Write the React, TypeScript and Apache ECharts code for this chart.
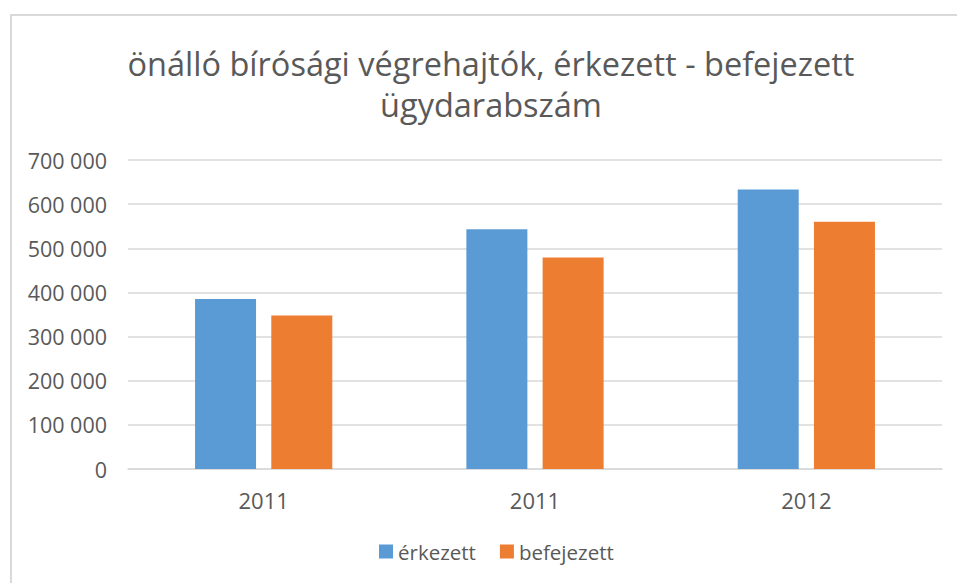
import React, { useEffect, useRef } from "react";
import * as echarts from "echarts";

const categories = ["2011", "2011", "2012"];
const erkezett = [385000, 543000, 633000];
const befejezett = [348000, 479000, 560000];
const seriesNames = ["érkezett", "befejezett"];
const titleLines = ["önálló bírósági végrehajtók, érkezett - befejezett", "ügydarabszám"];

const fmt = (v: number) => {
  if (v === 0) return "0";
  const s = String(v);
  return s.replace(/\B(?=(\d{3})+(?!\d))/g, " ");
};

export default function App() {
  const ref = useRef<HTMLDivElement>(null);
  useEffect(() => {
    if (!ref.current) return;
    const chart = echarts.init(ref.current, null, { renderer: "svg" });
    const font = "'Open Sans', 'Noto Sans', sans-serif";
    chart.setOption({
      animation: false,
      backgroundColor: "#ffffff",
      textStyle: { fontFamily: font },
      title: {
        text: titleLines.join("\n"),
        left: 486,
        textAlign: "center",
        top: 38,
        textStyle: {
          fontFamily: font,
          fontSize: 32.5,
          fontWeight: "normal",
          color: "#595959",
          lineHeight: 41,
        },
      },
      graphic: [
        { type: "line", shape: { x1: 11, y1: 15, x2: 11, y2: 583 }, style: { stroke: "#d9d9d9", lineWidth: 2 } },
        { type: "line", shape: { x1: 10, y1: 15, x2: 957, y2: 15 }, style: { stroke: "#d9d9d9", lineWidth: 2 } },
      ],
      legend: {
        data: seriesNames,
        bottom: 16,
        left: 374,
        icon: "rect",
        itemWidth: 14,
        itemHeight: 14,
        itemGap: 24,
        itemTextGap: 5,
        textStyle: { fontFamily: font, fontSize: 20.5, color: "#595959" },
      },
      grid: { left: 128, right: 15, top: 160, bottom: 114, containLabel: false },
      xAxis: {
        type: "category",
        data: categories,
        axisLine: { lineStyle: { color: "#d9d9d9", width: 1.5 } },
        axisTick: { show: false },
        axisLabel: { color: "#595959", fontSize: 22, margin: 20, fontFamily: font },
      },
      yAxis: {
        type: "value",
        min: 0,
        max: 700000,
        interval: 100000,
        axisLine: { show: false },
        axisTick: { show: false },
        splitLine: { lineStyle: { color: "#d9d9d9", width: 1.5 } },
        axisLabel: { color: "#595959", fontSize: 21.5, margin: 21, fontFamily: font, formatter: fmt },
      },
      series: [
        {
          name: seriesNames[0],
          type: "bar",
          data: erkezett,
          barWidth: 61,
          barGap: "25%",
          itemStyle: { color: "#5b9bd5" },
        },
        {
          name: seriesNames[1],
          type: "bar",
          data: befejezett,
          barWidth: 61,
          barGap: "25%",
          itemStyle: { color: "#ed7d31" },
        },
      ],
    });
    return () => chart.dispose();
  }, []);
  return (
    <div
      ref={ref}
      style={{ position: "fixed", left: 0, top: 0, width: 957, height: 583 }}
    />
  );
}
